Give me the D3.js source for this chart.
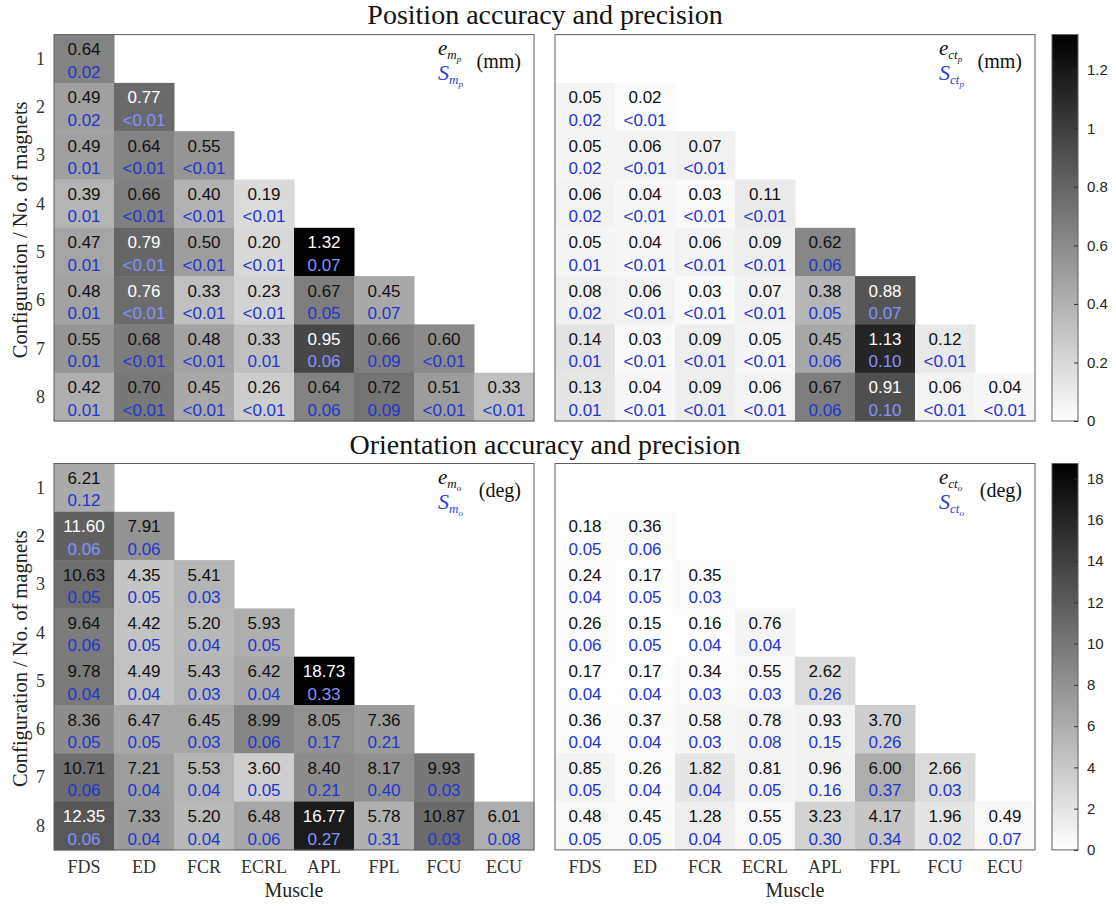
<!DOCTYPE html>
<html lang="en">
<head>
<meta charset="UTF-8">
<title>Position and orientation accuracy</title>
<script src="https://d3js.org/d3.v7.min.js"></script>
<style>
body { margin: 0; background: #fff; }
.serif { font-family: "Liberation Serif", "DejaVu Serif", serif; }
.sans { font-family: "Liberation Sans", Arial, sans-serif; }
</style>
</head>
<body>
<script>

// ================== DATA ==================
var muscles = ["FDS", "ED", "FCR", "ECRL", "APL", "FPL", "FCU", "ECU"];
var configs = [1, 2, 3, 4, 5, 6, 7, 8];

// one row per configuration, one entry per muscle (magnet)
var posMagErr = [
	[0.64],
	[0.49, 0.77],
	[0.49, 0.64, 0.55],
	[0.39, 0.66, 0.40, 0.19],
	[0.47, 0.79, 0.50, 0.20, 1.32],
	[0.48, 0.76, 0.33, 0.23, 0.67, 0.45],
	[0.55, 0.68, 0.48, 0.33, 0.95, 0.66, 0.60],
	[0.42, 0.70, 0.45, 0.26, 0.64, 0.72, 0.51, 0.33]
];
var posMagSd = [
	["0.02"],
	["0.02", "<0.01"],
	["0.01", "<0.01", "<0.01"],
	["0.01", "<0.01", "<0.01", "<0.01"],
	["0.01", "<0.01", "<0.01", "<0.01", "0.07"],
	["0.01", "<0.01", "<0.01", "<0.01", "0.05", "0.07"],
	["0.01", "<0.01", "<0.01", "0.01", "0.06", "0.09", "<0.01"],
	["0.01", "<0.01", "<0.01", "<0.01", "0.06", "0.09", "<0.01", "<0.01"]
];
var posCtErr = [
	[],
	[0.05, 0.02],
	[0.05, 0.06, 0.07],
	[0.06, 0.04, 0.03, 0.11],
	[0.05, 0.04, 0.06, 0.09, 0.62],
	[0.08, 0.06, 0.03, 0.07, 0.38, 0.88],
	[0.14, 0.03, 0.09, 0.05, 0.45, 1.13, 0.12],
	[0.13, 0.04, 0.09, 0.06, 0.67, 0.91, 0.06, 0.04]
];
var posCtSd = [
	[],
	["0.02", "<0.01"],
	["0.02", "<0.01", "<0.01"],
	["0.02", "<0.01", "<0.01", "<0.01"],
	["0.01", "<0.01", "<0.01", "<0.01", "0.06"],
	["0.02", "<0.01", "<0.01", "<0.01", "0.05", "0.07"],
	["0.01", "<0.01", "<0.01", "<0.01", "0.06", "0.10", "<0.01"],
	["0.01", "<0.01", "<0.01", "<0.01", "0.06", "0.10", "<0.01", "<0.01"]
];
var oriMagErr = [
	[6.21],
	[11.60, 7.91],
	[10.63, 4.35, 5.41],
	[9.64, 4.42, 5.20, 5.93],
	[9.78, 4.49, 5.43, 6.42, 18.73],
	[8.36, 6.47, 6.45, 8.99, 8.05, 7.36],
	[10.71, 7.21, 5.53, 3.60, 8.40, 8.17, 9.93],
	[12.35, 7.33, 5.20, 6.48, 16.77, 5.78, 10.87, 6.01]
];
var oriMagSd = [
	["0.12"],
	["0.06", "0.06"],
	["0.05", "0.05", "0.03"],
	["0.06", "0.05", "0.04", "0.05"],
	["0.04", "0.04", "0.03", "0.04", "0.33"],
	["0.05", "0.05", "0.03", "0.06", "0.17", "0.21"],
	["0.06", "0.04", "0.04", "0.05", "0.21", "0.40", "0.03"],
	["0.06", "0.04", "0.04", "0.06", "0.27", "0.31", "0.03", "0.08"]
];
var oriCtErr = [
	[],
	[0.18, 0.36],
	[0.24, 0.17, 0.35],
	[0.26, 0.15, 0.16, 0.76],
	[0.17, 0.17, 0.34, 0.55, 2.62],
	[0.36, 0.37, 0.58, 0.78, 0.93, 3.70],
	[0.85, 0.26, 1.82, 0.81, 0.96, 6.00, 2.66],
	[0.48, 0.45, 1.28, 0.55, 3.23, 4.17, 1.96, 0.49]
];
var oriCtSd = [
	[],
	["0.05", "0.06"],
	["0.04", "0.05", "0.03"],
	["0.06", "0.05", "0.04", "0.04"],
	["0.04", "0.04", "0.03", "0.03", "0.26"],
	["0.04", "0.04", "0.03", "0.08", "0.15", "0.26"],
	["0.05", "0.04", "0.04", "0.05", "0.16", "0.37", "0.03"],
	["0.05", "0.05", "0.04", "0.05", "0.30", "0.34", "0.02", "0.07"]
];

var posTicks = [0, 0.2, 0.4, 0.6, 0.8, 1, 1.2];
var oriTicks = [0, 2, 4, 6, 8, 10, 12, 14, 16, 18];

// ================== INIT SVG ==================
var w = 1116;
var h = 906;
var pw = 480;
var ph = 386.4;
var leftX = 54;
var rightX = 555;
var topY = 34.6;
var botY = 463.5;
var cbX = 1052;
var cbW = 26;
var SANS = "'Liberation Sans', Arial, sans-serif";
var SERIF = "'Liberation Serif', 'DejaVu Serif', serif";

var svg = d3.select("body").append("svg")
	.attr("width", w)
	.attr("height", h);

var x = d3.scaleBand().domain(muscles).range([0, pw]);
var y = d3.scaleBand().domain(configs).range([0, ph]);

function maxOf(a, b) {
	return d3.max(a.concat(b), function(r){ return d3.max(r) || 0; });
}
var posMax = maxOf(posMagErr, posCtErr);
var oriMax = maxOf(oriMagErr, oriCtErr);

// subscripted symbol, e.g. e with m_p
function symbol(sel, letter, main, sub) {
	sel.append("tspan").style("font-style", "italic").text(letter);
	sel.append("tspan").style("font-style", "italic").style("font-size", "13px").attr("dy", 4).text(main);
	sel.append("tspan").style("font-style", "italic").style("font-size", "9px").attr("dy", 3).text(sub);
}

// ================== PANEL ==================
function drawPanel(px, py, err, sd, cmax, whiteAbove, main, sub, unit, showRows, showCols) {
	var color = d3.scaleLinear().domain([0, cmax]).range(["#ffffff", "#000000"]);
	var g = svg.append("g").attr("transform", "translate(" + px + "," + py + ")");

	var cells = [];
	err.forEach(function(row, i){
		row.forEach(function(v, j){
			cells.push({ cfg: configs[i], muscle: muscles[j], value: v, sd: sd[i][j] });
		});
	});

	g.selectAll(".cell")
		.data(cells)
		.enter().append("rect")
		.attr("class", "cell")
		.attr("x", function(d){ return x(d.muscle); })
		.attr("y", function(d){ return y(d.cfg); })
		.attr("width", x.bandwidth() + 0.5)
		.attr("height", y.bandwidth() + 0.5)
		.attr("fill", function(d){ return color(d.value); });

	var txt = g.selectAll(".lbl")
		.data(cells)
		.enter().append("g")
		.attr("class", "lbl")
		.attr("transform", function(d){
			return "translate(" + (x(d.muscle) + x.bandwidth() / 2) + "," + (y(d.cfg) + y.bandwidth() / 2) + ")";
		})
		.style("font-family", SANS)
		.style("font-size", "17px")
		.attr("text-anchor", "middle");
	txt.append("text")
		.attr("y", -3.6)
		.attr("fill", function(d){ return d.value > whiteAbove ? "#ffffff" : "#111111"; })
		.text(function(d){ return d.value.toFixed(2); });
	txt.append("text")
		.attr("y", 18.8)
		.attr("fill", function(d){ return d.value > whiteAbove ? "#8592ff" : "#2136cf"; })
		.text(function(d){ return d.sd; });

	g.append("rect")
		.attr("width", pw)
		.attr("height", ph)
		.attr("fill", "none")
		.attr("stroke", "#5e5e5e")
		.attr("stroke-width", 1);

	// symbol label in the top right corner
	var sym = g.append("g").style("font-family", SERIF);
	sym.append("text")
		.attr("x", pw - 96)
		.attr("y", 20)
		.style("font-size", "21px")
		.attr("fill", "#111")
		.call(symbol, "e", main, sub);
	sym.append("text")
		.attr("x", pw - 96)
		.attr("y", 45)
		.style("font-size", "22px")
		.attr("fill", "#2a3fd6")
		.call(symbol, "S", main, sub);
	sym.append("text")
		.attr("x", pw - 13)
		.attr("y", 33)
		.attr("text-anchor", "end")
		.style("font-size", "20px")
		.attr("fill", "#111")
		.text("(" + unit + ")");

	if (showRows) {
		g.selectAll(".rowlbl")
			.data(configs)
			.enter().append("text")
			.attr("class", "rowlbl")
			.style("font-family", SERIF)
			.attr("x", -9)
			.attr("y", function(d){ return y(d) + y.bandwidth() / 2 + 6; })
			.attr("text-anchor", "end")
			.style("font-size", "18px")
			.attr("fill", "#333")
			.text(function(d){ return d; });
		g.append("text")
			.style("font-family", SERIF)
			.attr("transform", "translate(" + (-px + 27) + "," + (ph / 2 + 2) + ") rotate(-90)")
			.attr("text-anchor", "middle")
			.style("font-size", "20.5px")
			.attr("fill", "#222")
			.text("Configuration / No. of magnets");
	}
	if (showCols) {
		g.selectAll(".collbl")
			.data(muscles)
			.enter().append("text")
			.attr("class", "collbl")
			.style("font-family", SERIF)
			.attr("x", function(d){ return x(d) + x.bandwidth() / 2; })
			.attr("y", ph + 23)
			.attr("text-anchor", "middle")
			.style("font-size", "18px")
			.attr("fill", "#333")
			.text(function(d){ return d; });
		g.append("text")
			.style("font-family", SERIF)
			.attr("x", pw / 2)
			.attr("y", ph + 47)
			.attr("text-anchor", "middle")
			.style("font-size", "20px")
			.attr("fill", "#222")
			.text("Muscle");
	}
}

// ================== COLORBAR ==================
function drawColorbar(py, cmax, ticks, id) {
	var scale = d3.scaleLinear().domain([0, cmax]).range([ph, 0]);
	var grad = svg.append("defs").append("linearGradient")
		.attr("id", id)
		.attr("x1", 0).attr("y1", 1).attr("x2", 0).attr("y2", 0);
	grad.append("stop").attr("offset", 0).attr("stop-color", "#ffffff");
	grad.append("stop").attr("offset", 1).attr("stop-color", "#000000");

	var g = svg.append("g").attr("transform", "translate(" + cbX + "," + py + ")");
	g.append("rect")
		.attr("width", cbW)
		.attr("height", ph)
		.attr("fill", "url(#" + id + ")")
		.attr("stroke", "#5e5e5e");
	var axis = d3.axisRight(scale)
		.tickValues(ticks)
		.tickSizeInner(-4)
		.tickSizeOuter(0)
		.tickPadding(9)
		.tickFormat(d3.format(""));
	var a = g.append("g")
		.attr("transform", "translate(" + cbW + ",0)")
		.call(axis);
	a.select(".domain").remove();
	a.selectAll("line").attr("stroke", "#333");
	a.selectAll("text")
		.style("font-family", SANS)
		.style("font-size", "15px")
		.attr("fill", "#262626");
}

// ================== DRAW ==================
svg.append("text")
	.style("font-family", SERIF)
	.attr("x", 545)
	.attr("y", 24)
	.attr("text-anchor", "middle")
	.style("font-size", "28px")
	.attr("fill", "#111")
	.text("Position accuracy and precision");
svg.append("text")
	.style("font-family", SERIF)
	.attr("x", 545)
	.attr("y", 454)
	.attr("text-anchor", "middle")
	.style("font-size", "28px")
	.attr("fill", "#111")
	.text("Orientation accuracy and precision");

drawPanel(leftX, topY, posMagErr, posMagSd, posMax, 0.74, "m", "p", "mm", true, false);
drawPanel(rightX, topY, posCtErr, posCtSd, posMax, 0.74, "ct", "p", "mm", false, false);
drawPanel(leftX, botY, oriMagErr, oriMagSd, oriMax, 11.2, "m", "o", "deg", true, true);
drawPanel(rightX, botY, oriCtErr, oriCtSd, oriMax, 11.2, "ct", "o", "deg", false, true);

drawColorbar(topY, posMax, posTicks, "gradPos");
drawColorbar(botY, oriMax, oriTicks, "gradOri");

</script>
</body>
</html>
